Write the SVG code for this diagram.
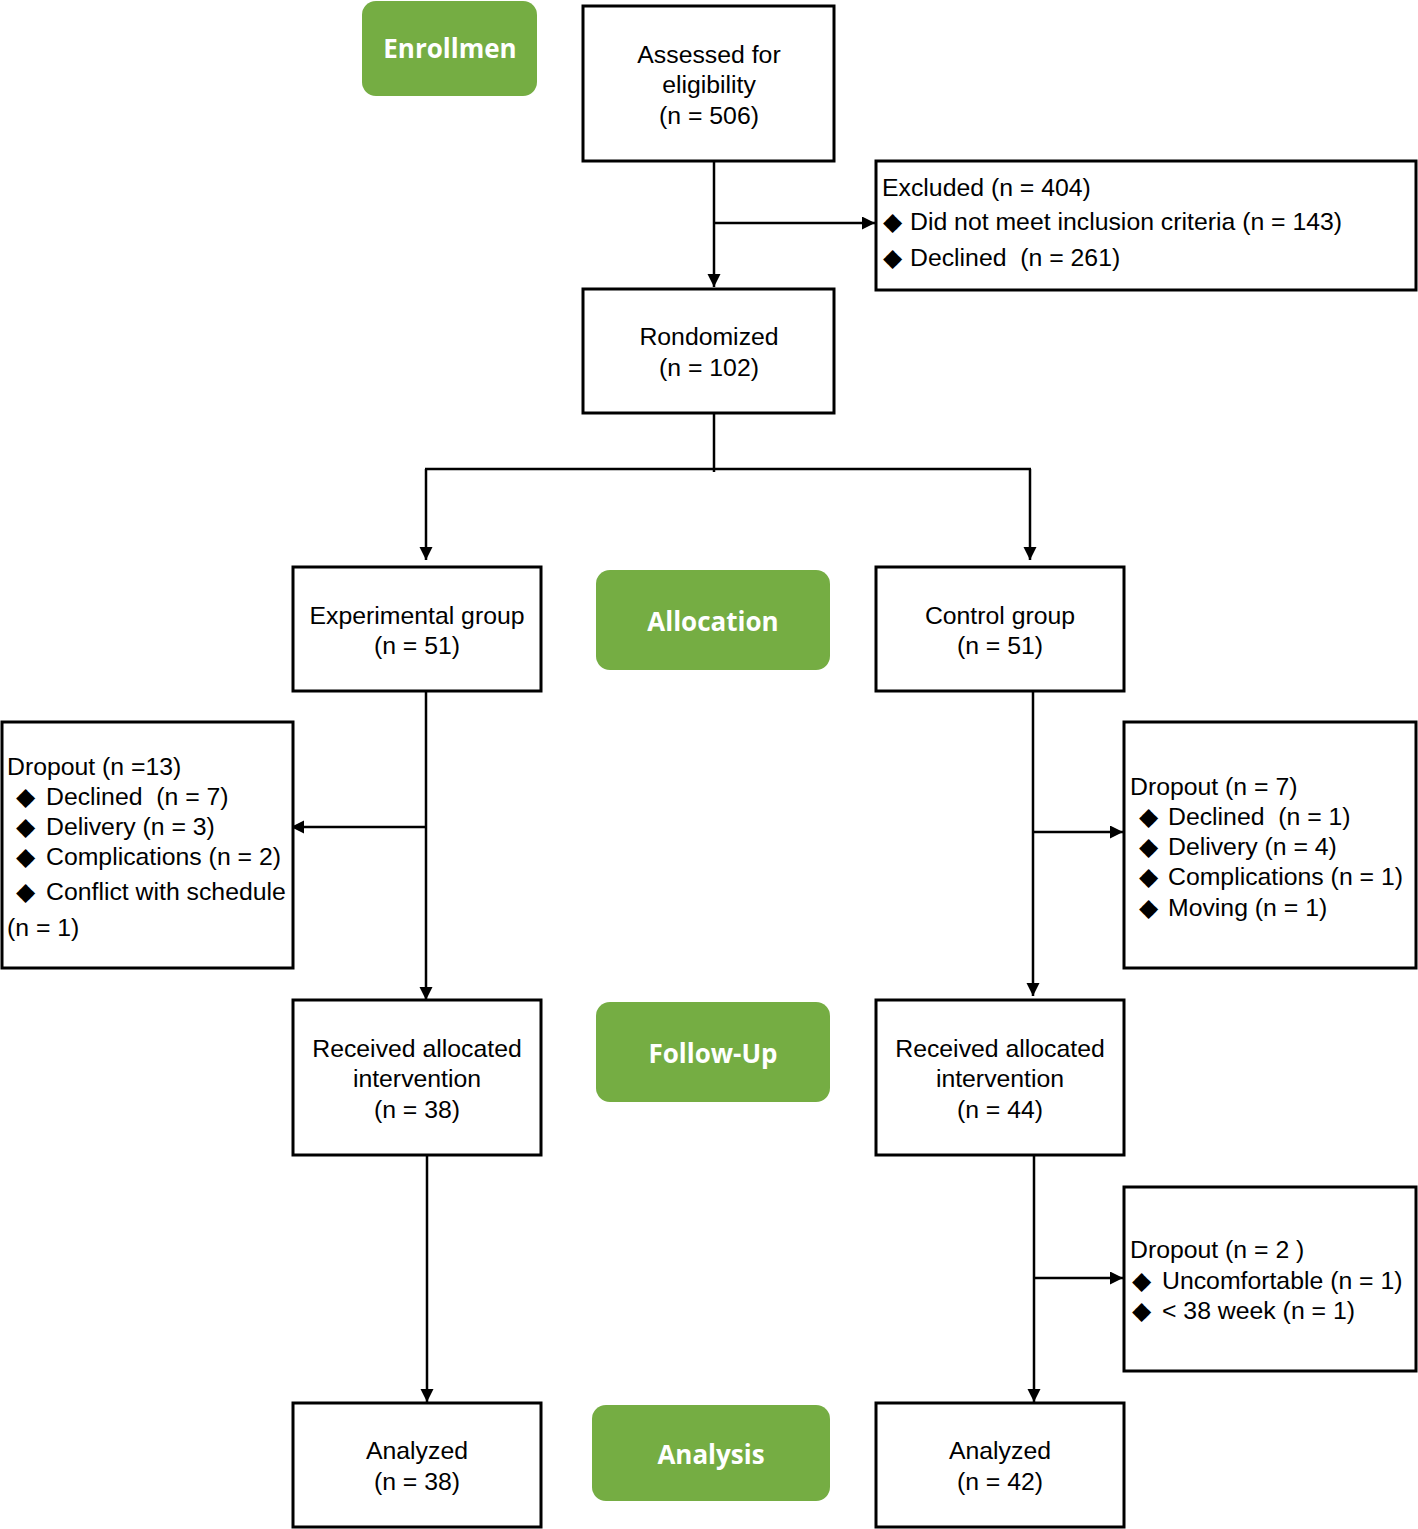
<svg xmlns="http://www.w3.org/2000/svg" width="1418" height="1529" viewBox="0 0 1418 1529">
<style>
.box{fill:#fff;stroke:#000;stroke-width:3}
.stage{fill:#75AD43}
.t{font-family:"Liberation Sans",Arial,sans-serif;font-size:24.8px;fill:#000;white-space:pre}
.c{text-anchor:middle}
.d{font-size:25px}
.s{font-family:"Open Sans","Liberation Sans",sans-serif;font-weight:bold;font-size:26px;fill:#fff;text-anchor:middle}
.ln{fill:none;stroke:#000;stroke-width:2.5}
</style>
<defs>
<marker id="ah" markerUnits="userSpaceOnUse" markerWidth="14" markerHeight="14" refX="13" refY="6.5" orient="auto">
<path d="M0,0 L13,6.5 L0,13 Z" fill="#000"/>
</marker>
</defs>
<g id="connectors">
<path class="ln" d="M714,161 V287" marker-end="url(#ah)"/>
<path class="ln" d="M714,223 H875" marker-end="url(#ah)"/>
<path class="ln" d="M714,405 V472"/>
<path class="ln" d="M425,469 H1031"/>
<path class="ln" d="M426,469 V560" marker-end="url(#ah)"/>
<path class="ln" d="M1030,469 V560" marker-end="url(#ah)"/>
<path class="ln" d="M426,691 V1000" marker-end="url(#ah)"/>
<path class="ln" d="M426,827 H291" marker-end="url(#ah)"/>
<path class="ln" d="M1033,683 V996" marker-end="url(#ah)"/>
<path class="ln" d="M1033,832 H1123" marker-end="url(#ah)"/>
<path class="ln" d="M427,1145 V1402" marker-end="url(#ah)"/>
<path class="ln" d="M1034,1145 V1402" marker-end="url(#ah)"/>
<path class="ln" d="M1034,1278 H1123" marker-end="url(#ah)"/>
</g>
<g id="enrollment">
<rect class="stage" x="362" y="1" width="175" height="95" rx="14"/>
<text class="s" x="450" y="58">Enrollmen</text>
</g>
<g id="assessed">
<rect class="box" x="583" y="6" width="251" height="155"/>
<text class="t c" x="709" y="63">Assessed for</text>
<text class="t c" x="709" y="93">eligibility</text>
<text class="t c" x="709" y="124">(n = 506)</text>
</g>
<g id="excluded">
<rect class="box" x="876" y="161" width="540" height="129"/>
<text class="t" x="882" y="196">Excluded (n = 404)</text>
<text class="t" y="230"><tspan class="d" x="883">◆</tspan><tspan x="910">Did not meet inclusion criteria (n = 143)</tspan></text>
<text class="t" y="266"><tspan class="d" x="883">◆</tspan><tspan x="910">Declined  (n = 261)</tspan></text>
</g>
<g id="randomized">
<rect class="box" x="583" y="289" width="251" height="124"/>
<text class="t c" x="709" y="345">Rondomized</text>
<text class="t c" x="709" y="376">(n = 102)</text>
</g>
<g id="experimental">
<rect class="box" x="293" y="567" width="248" height="124"/>
<text class="t c" x="417" y="624">Experimental group</text>
<text class="t c" x="417" y="654">(n = 51)</text>
</g>
<g id="allocation">
<rect class="stage" x="596" y="570" width="234" height="100" rx="14"/>
<text class="s" x="713" y="631">Allocation</text>
</g>
<g id="control">
<rect class="box" x="876" y="567" width="248" height="124"/>
<text class="t c" x="1000" y="624">Control group</text>
<text class="t c" x="1000" y="654">(n = 51)</text>
</g>
<g id="dropout-exp">
<rect class="box" x="2" y="722" width="291" height="246"/>
<text class="t" x="7" y="775">Dropout (n =13)</text>
<text class="t" y="805"><tspan class="d" x="16">◆</tspan><tspan x="46">Declined  (n = 7)</tspan></text>
<text class="t" y="835"><tspan class="d" x="16">◆</tspan><tspan x="46">Delivery (n = 3)</tspan></text>
<text class="t" y="865"><tspan class="d" x="16">◆</tspan><tspan x="46">Complications (n = 2)</tspan></text>
<text class="t" y="900"><tspan class="d" x="16">◆</tspan><tspan x="46">Conflict with schedule</tspan></text>
<text class="t" x="7" y="936">(n = 1)</text>
</g>
<g id="dropout-ctrl">
<rect class="box" x="1124" y="722" width="292" height="246"/>
<text class="t" x="1130" y="795">Dropout (n = 7)</text>
<text class="t" y="825"><tspan class="d" x="1139">◆</tspan><tspan x="1168">Declined  (n = 1)</tspan></text>
<text class="t" y="855"><tspan class="d" x="1139">◆</tspan><tspan x="1168">Delivery (n = 4)</tspan></text>
<text class="t" y="885"><tspan class="d" x="1139">◆</tspan><tspan x="1168">Complications (n = 1)</tspan></text>
<text class="t" y="916"><tspan class="d" x="1139">◆</tspan><tspan x="1168">Moving (n = 1)</tspan></text>
</g>
<g id="received-exp">
<rect class="box" x="293" y="1000" width="248" height="155"/>
<text class="t c" x="417" y="1057">Received allocated</text>
<text class="t c" x="417" y="1087">intervention</text>
<text class="t c" x="417" y="1118">(n = 38)</text>
</g>
<g id="followup">
<rect class="stage" x="596" y="1002" width="234" height="100" rx="14"/>
<text class="s" x="713" y="1063">Follow-Up</text>
</g>
<g id="received-ctrl">
<rect class="box" x="876" y="1000" width="248" height="155"/>
<text class="t c" x="1000" y="1057">Received allocated</text>
<text class="t c" x="1000" y="1087">intervention</text>
<text class="t c" x="1000" y="1118">(n = 44)</text>
</g>
<g id="dropout-ctrl2">
<rect class="box" x="1124" y="1187" width="292" height="184"/>
<text class="t" x="1130" y="1258">Dropout (n = 2 )</text>
<text class="t" y="1289"><tspan class="d" x="1132">◆</tspan><tspan x="1162">Uncomfortable (n = 1)</tspan></text>
<text class="t" y="1319"><tspan class="d" x="1132">◆</tspan><tspan x="1162">&lt; 38 week (n = 1)</tspan></text>
</g>
<g id="analyzed-exp">
<rect class="box" x="293" y="1403" width="248" height="124"/>
<text class="t c" x="417" y="1459">Analyzed</text>
<text class="t c" x="417" y="1490">(n = 38)</text>
</g>
<g id="analysis">
<rect class="stage" x="592" y="1405" width="238" height="96" rx="14"/>
<text class="s" x="711" y="1464">Analysis</text>
</g>
<g id="analyzed-ctrl">
<rect class="box" x="876" y="1403" width="248" height="124"/>
<text class="t c" x="1000" y="1459">Analyzed</text>
<text class="t c" x="1000" y="1490">(n = 42)</text>
</g>
</svg>
